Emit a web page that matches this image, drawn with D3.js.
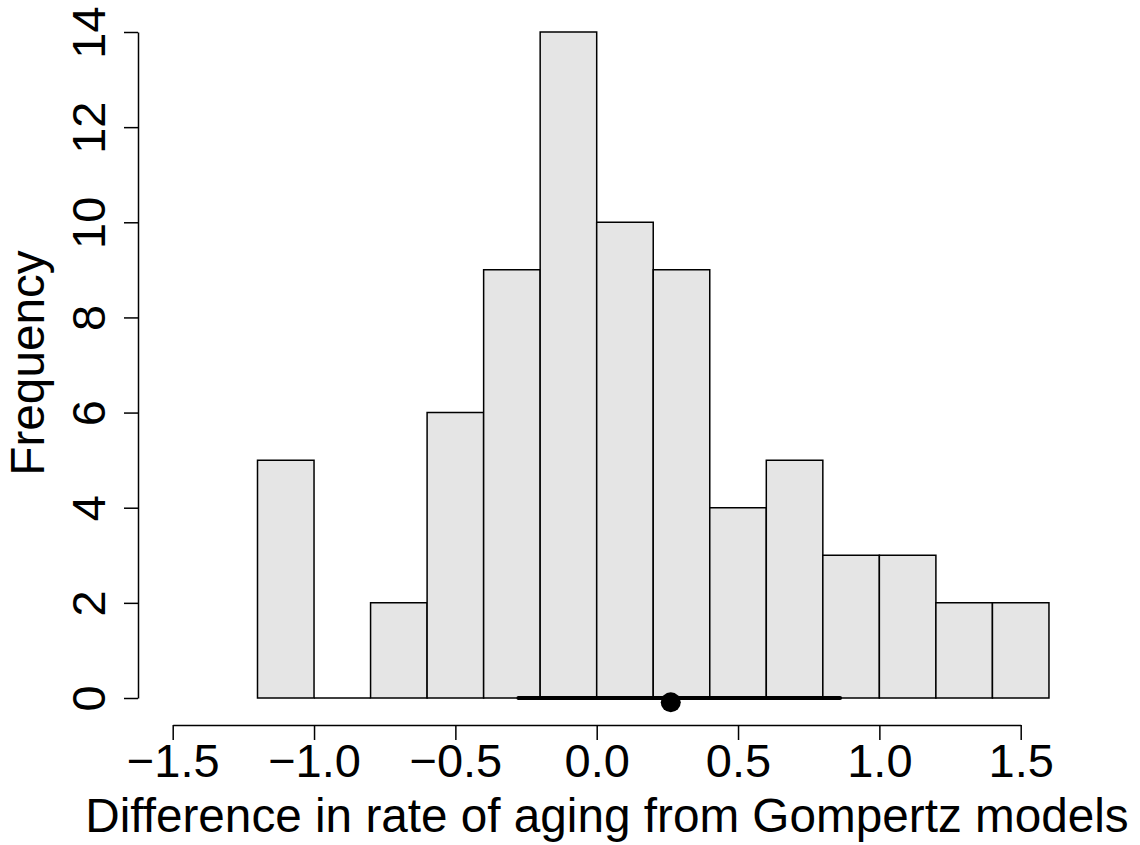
<!DOCTYPE html>
<html>
<head>
<meta charset="utf-8">
<script src="https://cdn.jsdelivr.net/npm/d3@7"></script>
<style>
body{margin:0;background:white;}
text{font-family:"Liberation Sans",Arial,sans-serif;fill:black;}
.axis path,.axis line{stroke:black;stroke-width:1.5;}
</style>
</head>
<body>
<svg></svg>
<script>
//histogram bins and their counts
var breaks = [-1.2,-1.0,-0.8,-0.6,-0.4,-0.2,0.0,0.2,0.4,0.6,0.8,1.0,1.2,1.4,1.6];
var counts = [5,0,2,6,9,14,10,9,4,5,3,3,2,2];

//tick labels
var xTicks = [-1.5,-1.0,-0.5,0.0,0.5,1.0,1.5];
var yTicks = [0,2,4,6,8,10,12,14];

//interval and point estimate drawn on the baseline
var interval = [-0.277,0.861];
var pointEstimate = 0.262;
var pointLevel = -0.09;

var xLabel = "Difference in rate of aging from Gompertz models";
var yLabel = "Frequency";

var screen = {width:1140,height:845};

var svg = d3.select("svg")
    .attr("width",screen.width)
    .attr("height",screen.height);

var xScale = d3.scaleLinear()
    .domain([-1.5,1.5])
    .range([172.7,1020.7]);

var yScale = d3.scaleLinear()
    .domain([0,14])
    .range([698,32]);

var bins = counts.map(function(c,i)
{
    return {x0:breaks[i],x1:breaks[i+1],count:c};
});

//bars as paths so the empty bin still shows its bottom edge
svg.append("g")
    .selectAll("path")
    .data(bins)
    .enter()
    .append("path")
    .attr("d",function(b)
    {
        var l = xScale(b.x0), r = xScale(b.x1);
        var t = yScale(b.count), btm = yScale(0);
        return "M"+l+","+btm+"L"+l+","+t+"L"+r+","+t+"L"+r+","+btm+"Z";
    })
    .attr("fill","#e5e5e5")
    .attr("stroke","black")
    .attr("stroke-width",1.5);

//x axis
var xAxis = d3.axisBottom(xScale)
    .tickValues(xTicks)
    .tickSize(15)
    .tickSizeOuter(0)
    .tickFormat(d3.format(".1f"));

var xg = svg.append("g")
    .classed("axis",true)
    .attr("transform","translate(0,725)")
    .call(xAxis);
xg.selectAll("text")
    .attr("y",52)
    .attr("dy",null)
    .style("font-size","47px");

//y axis
var yAxis = d3.axisLeft(yScale)
    .tickValues(yTicks)
    .tickSize(14)
    .tickSizeOuter(0);

var yg = svg.append("g")
    .classed("axis",true)
    .attr("transform","translate(138,0)")
    .call(yAxis);
yg.selectAll("text")
    .attr("x",null)
    .attr("dy",null)
    .attr("text-anchor","middle")
    .attr("transform","translate(-33,0) rotate(-90)")
    .style("font-size","47px");

//interval line and point
svg.append("line")
    .attr("x1",xScale(interval[0]))
    .attr("x2",xScale(interval[1]))
    .attr("y1",yScale(0))
    .attr("y2",yScale(0))
    .attr("stroke","black")
    .attr("stroke-width",4)
    .attr("stroke-linecap","round");

svg.append("circle")
    .attr("cx",xScale(pointEstimate))
    .attr("cy",yScale(pointLevel))
    .attr("r",10)
    .attr("fill","black");

//labels
svg.append("text")
    .text(xLabel)
    .attr("text-anchor","middle")
    .attr("x",607)
    .attr("y",832)
    .style("font-size","47.7px");

svg.append("g")
    .attr("transform","translate(44,363)")
    .append("text")
    .text(yLabel)
    .attr("text-anchor","middle")
    .attr("transform","rotate(-90)")
    .style("font-size","47.7px");
</script>
</body>
</html>
